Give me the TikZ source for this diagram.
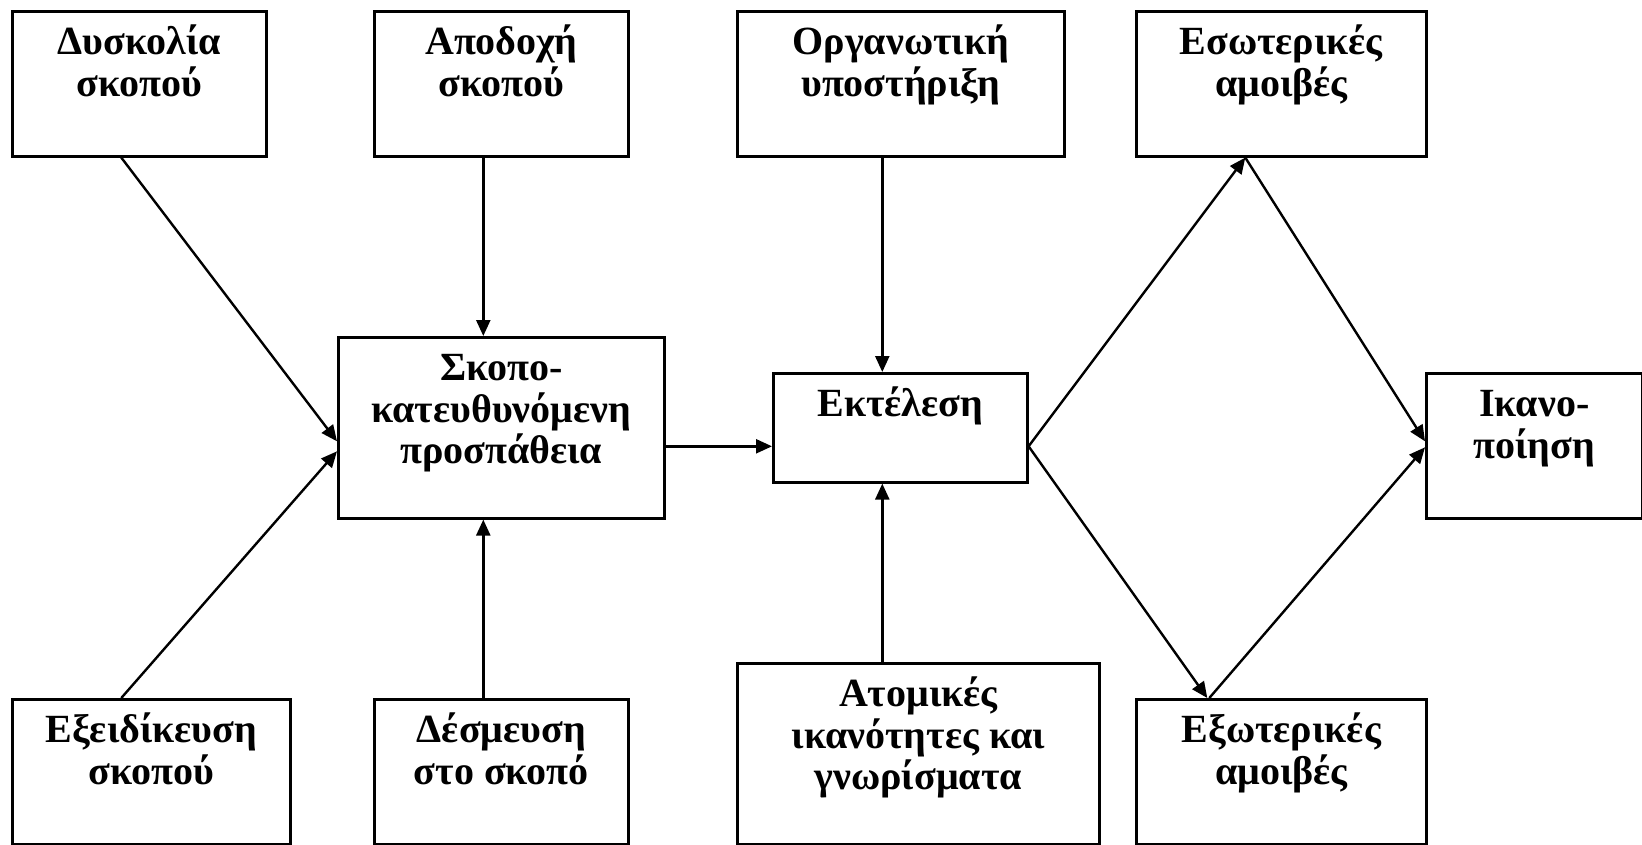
\documentclass[tikz,border=0pt]{standalone}
\usepackage{fontspec}
\setmainfont{Liberation Serif}
\usetikzlibrary{arrows.meta,calc}

% box: name, x0, y0, x1, y1, text (coordinates in px, y downwards)
\newcommand\gbox[6]{%
  \node[box, minimum width={#4-#2}, minimum height={#5-#3}] (#1) at (#2,#3) {};
  \node[lbl] (#1-t) at ($(#1.north)+(0,44.5)$) {\parbox[t]{10cm}{\centering #6}};
}

\begin{document}
\begin{tikzpicture}[x=1pt,y=-1pt,
  box/.style={draw, line width=2.6pt, rectangle, inner sep=0pt, anchor=north west},
  lbl/.style={anchor=base, inner sep=0pt, font=\bfseries\fontsize{40}{41.5}\selectfont},
  arr/.style={line width=2.4pt, -{Triangle[length=16pt,width=14pt]}}]

\useasboundingbox (0,0) rectangle (1642,844);

\gbox{dys}{11}{10}{265}{155}{Δυσκολία\\σκοπού}
\gbox{apo}{373}{10}{627}{155}{Αποδοχή\\σκοπού}
\gbox{org}{736}{10}{1063}{155}{Οργανωτική\\υποστήριξη}
\gbox{eso}{1135}{10}{1425}{155}{Εσωτερικές\\αμοιβές}
\gbox{sko}{337}{336}{663}{517}{Σκοπο-\\κατευθυνόμενη\\προσπάθεια}
\gbox{ekt}{772}{372}{1026}{481}{Εκτέλεση}
\gbox{ika}{1425}{372}{1641}{517}{Ικανο-\\ποίηση}
\gbox{exe}{11}{698}{289}{842.5}{Εξειδίκευση\\σκοπού}
\gbox{des}{373}{698}{627}{842.5}{Δέσμευση\\στο σκοπό}
\gbox{ato}{736}{662}{1098}{842.5}{Ατομικές\\ικανότητες και\\γνωρίσματα}
\gbox{exo}{1135}{698}{1425}{842.5}{Εξωτερικές\\αμοιβές}

% inputs to goal-directed effort
\draw[arr] ($(dys.south)+(-18,0)$) -- ($(sko.west)+(0,13.5)$);
\draw[arr] ($(exe.north)+(-30,0)$) -- ($(sko.west)+(0,23.5)$);
\draw[arr] ($(apo.south)+(-18,0)$) -- ($(sko.north)+(-18,0)$);
\draw[arr] ($(des.north)+(-18,0)$) -- ($(sko.south)+(-18,0)$);

% effort to performance
\draw[arr] ($(sko.east)+(0,18.5)$) -- ($(ekt.west)+(0,18.5)$);
\draw[arr] ($(org.south)+(-18.5,0)$) -- ($(ekt.north)+(-18,0)$);
\draw[arr] ($(ato.north)+(-36,0)$) -- ($(ekt.south)+(-18,0)$);

% performance to rewards to satisfaction
\draw[arr] ($(ekt.east)+(0,18.5)$) -- ($(eso.south)+(-36,0)$);
\draw[arr] ($(ekt.east)+(0,18.5)$) -- ($(exo.north)+(-74,0)$);
\draw[arr] ($(eso.south)+(-36,0)$) -- ($(ika.west)+(0,-4.5)$);
\draw[arr] ($(exo.north)+(-72,0)$) -- ($(ika.west)+(0,1.5)$);

\end{tikzpicture}
\end{document}
